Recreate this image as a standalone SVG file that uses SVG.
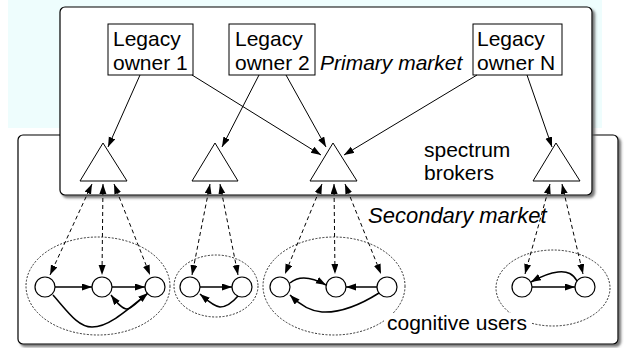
<svg xmlns="http://www.w3.org/2000/svg" width="624" height="348" viewBox="0 0 624 348">
<style>
  .t { font-family: "Liberation Sans", Arial, sans-serif; font-size: 21px; fill: #000; }
  .it { font-style: italic; }
  .box { fill: #fff; stroke: #000; stroke-width: 1; }
  .tri { fill: #fff; stroke: #000; stroke-width: 1; }
  .user { fill: #fff; stroke: #000; stroke-width: 1.2; }
  .cl { fill: none; stroke: #000; stroke-width: 0.8; stroke-dasharray: 2,1.5; }
  .own { fill: none; stroke: #000; stroke-width: 1; marker-end: url(#ah); }
  .dash { fill: none; stroke: #000; stroke-width: 1; stroke-dasharray: 4,3; marker-end: url(#ah); marker-start: url(#ahs); }
  .ue { fill: none; stroke: #000; stroke-width: 1.5; marker-end: url(#ah); }
  .panel { fill: #fff; stroke: #000; stroke-width: 1.2; filter: url(#sh); }
</style>
<defs>
  <marker id="ah" markerUnits="userSpaceOnUse" markerWidth="11" markerHeight="8" refX="10" refY="3.5" orient="auto">
    <path d="M0,0 L10,3.5 L0,7 z" fill="#000"/>
  </marker>
  <marker id="ahs" markerUnits="userSpaceOnUse" markerWidth="11" markerHeight="8" refX="10" refY="3.5" orient="auto-start-reverse">
    <path d="M0,0 L10,3.5 L0,7 z" fill="#000"/>
  </marker>
  <filter id="sh" x="-5%" y="-5%" width="110%" height="110%">
    <feDropShadow dx="2.5" dy="2.5" stdDeviation="1" flood-color="#555" flood-opacity="0.8"/>
  </filter>
</defs>
<rect x="8" y="0" width="594" height="128" fill="#eefdfd"/>
<g id="secondary-market">
  <rect class="panel" x="18" y="135" width="600" height="209" rx="5"/>
  <text class="t it" x="368" y="223" style="font-size:22px">Secondary market</text>
</g>
<g id="primary-market">
  <rect class="panel" x="60" y="7" width="532" height="188" rx="5"/>
  <text class="t it" x="320" y="70">Primary market</text>
</g>
<g id="owner1">
  <rect class="box" x="108" y="24" width="85" height="51"/>
  <text class="t" x="113" y="46">Legacy</text>
  <text class="t" x="113" y="70">owner 1</text>
</g>
<g id="owner2">
  <rect class="box" x="229" y="24" width="86" height="51"/>
  <text class="t" x="235" y="46">Legacy</text>
  <text class="t" x="235" y="70">owner 2</text>
</g>
<g id="ownerN">
  <rect class="box" x="473" y="24" width="89" height="51"/>
  <text class="t" x="477" y="46">Legacy</text>
  <text class="t" x="477" y="70">owner N</text>
</g>
<g id="broker1"><polygon class="tri" points="103,143 127,181 80,181"/></g>
<g id="broker2"><polygon class="tri" points="215,143 238,181 192,181"/></g>
<g id="broker3"><polygon class="tri" points="333,143 357,181 310,181"/></g>
<g id="broker4"><polygon class="tri" points="556,143 580,181 533,181"/></g>
<g id="brokers-label">
  <text class="t" x="424" y="157">spectrum</text>
  <text class="t" x="424" y="180">brokers</text>
</g>
<g id="cluster1">
  <ellipse class="cl" cx="98" cy="286" rx="72" ry="49"/>
  <circle class="user" cx="45" cy="287" r="10"/>
  <circle class="user" cx="102" cy="287" r="10"/>
  <circle class="user" cx="155" cy="287" r="10"/>
</g>
<g id="cluster2">
  <ellipse class="cl" cx="216" cy="286" rx="42" ry="31"/>
  <circle class="user" cx="190" cy="287" r="10"/>
  <circle class="user" cx="242" cy="287" r="10"/>
</g>
<g id="cluster3">
  <ellipse class="cl" cx="334" cy="286" rx="71" ry="49"/>
  <circle class="user" cx="280" cy="287" r="10"/>
  <circle class="user" cx="336" cy="287" r="10"/>
  <circle class="user" cx="387" cy="287" r="10"/>
</g>
<g id="cluster4">
  <ellipse class="cl" cx="553" cy="288" rx="57" ry="38"/>
  <circle class="user" cx="522" cy="287" r="10"/>
  <circle class="user" cx="585" cy="287" r="10"/>
</g>
<g id="users-label">
  <rect x="384" y="313" width="148" height="24" fill="#fff"/>
  <text class="t" x="387" y="330">cognitive users</text>
</g>
<g id="connectors">
  <line class="own" x1="140" y1="75" x2="108" y2="147"/>
  <line class="own" x1="192" y1="75" x2="321" y2="155"/>
  <line class="own" x1="259" y1="75" x2="222" y2="147"/>
  <line class="own" x1="286" y1="75" x2="326" y2="147"/>
  <line class="own" x1="477" y1="75" x2="344" y2="155"/>
  <line class="own" x1="527" y1="75" x2="552" y2="147"/>

  <line class="dash" x1="92" y1="184" x2="50" y2="275"/>
  <line class="dash" x1="103" y1="184" x2="102" y2="275"/>
  <line class="dash" x1="114" y1="184" x2="150" y2="275"/>
  <line class="dash" x1="210" y1="184" x2="192" y2="275"/>
  <line class="dash" x1="220" y1="184" x2="238" y2="275"/>
  <line class="dash" x1="322" y1="184" x2="285" y2="274"/>
  <line class="dash" x1="334" y1="184" x2="335" y2="274"/>
  <line class="dash" x1="345" y1="184" x2="381" y2="274"/>
  <line class="dash" x1="550" y1="184" x2="525" y2="274"/>
  <line class="dash" x1="562" y1="184" x2="583" y2="274"/>

  <line class="ue" x1="55" y1="287" x2="92" y2="287"/>
  <line class="ue" x1="112" y1="287" x2="145" y2="287"/>
  <path class="ue" d="M53,295 C68,312 78,327 92,327 C108,327 125,312 148,293"/>
  <path class="ue" d="M147,294 C138,301 132,309 127,309 C122,309 117,303 111,295"/>

  <line class="ue" x1="200" y1="287" x2="232" y2="287"/>
  <path class="ue" d="M238,296 C232,303 226,307 220,307 C213,306 207,300 200,294"/>

  <path class="ue" d="M290,283 C297,277 308,275 326,285"/>
  <line class="ue" x1="377" y1="287" x2="346" y2="287"/>
  <path class="ue" d="M379,293 C360,305 340,313 322,312 C308,311 298,303 290,295"/>

  <line class="ue" x1="532" y1="287" x2="575" y2="287"/>
  <path class="ue" d="M577,281 C573,274 568,271 558,272 C548,273 540,277 531,282"/>
</g>
</svg>
